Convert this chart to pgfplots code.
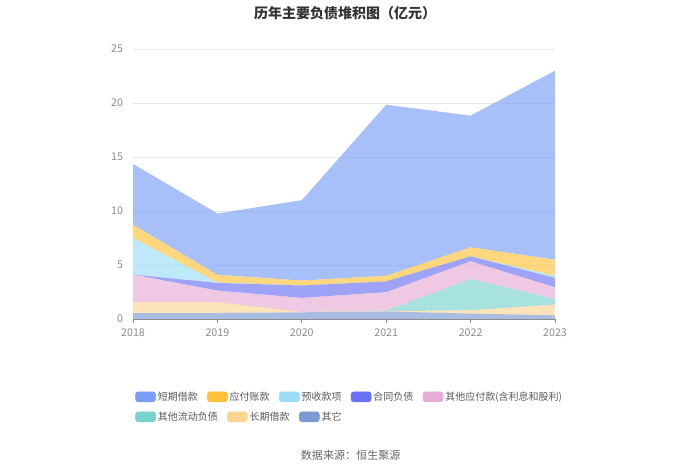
\documentclass[border=0pt]{standalone}
\usepackage{fontspec}
\setmainfont{Noto Sans CJK SC}
\usepackage{pgfplots}
\usepackage{pgfplotstable}
\pgfplotsset{compat=1.18}

\definecolor{cDQ}{HTML}{7A9EF6}
\definecolor{cYF}{HTML}{FEC23A}
\definecolor{cYS}{HTML}{9ADDF6}
\definecolor{cHT}{HTML}{6A72F3}
\definecolor{cQY}{HTML}{E6ACD5}
\definecolor{cQL}{HTML}{79D2CE}
\definecolor{cCQ}{HTML}{FCD492}
\definecolor{cQT}{HTML}{7B99D4}
\definecolor{tickgray}{HTML}{8C8C8C}
\definecolor{gridgray}{HTML}{E9E9E9}

% year qita changqi qitaliudong qitayingfu hetong yushou yingfu duanqi
\pgfplotstableread{
year qt cq ql qy ht ys yf dq
2018 0.55 1.00 0.00 2.56 0.00 3.40 1.23 5.62
2019 0.55 1.00 0.00 1.08 0.71 0.05 0.70 5.68
2020 0.62 0.03 0.00 1.30 1.15 0.00 0.46 7.44
2021 0.70 0.03 0.05 1.70 1.00 0.00 0.52 15.84
2022 0.50 0.30 2.90 1.64 0.46 0.00 0.84 12.19
2023 0.34 0.99 0.52 1.08 0.87 0.20 1.49 17.50
}\datatable

\newcommand{\swatch}[1]{\fill[#1,rounded corners=2pt] (0pt,-3.6pt) rectangle (15pt,3.9pt);}

\begin{document}
\begin{tikzpicture}
\path[use as bounding box] (0pt,0pt) rectangle (525pt,354.75pt);

\begin{axis}[
  at={(99.75pt,115.5pt)}, anchor=south west,
  scale only axis, width=316.5pt, height=202.5pt,
  xmin=2018, xmax=2023, ymin=0, ymax=25,
  stack plots=y,
  axis x line*=bottom,
  axis y line*=left,
  y axis line style={draw=none},
  x axis line style={draw=tickgray, line width=0.6pt},
  xtick={2018,2019,2020,2021,2022,2023},
  ytick={0,5,10,15,20,25},
  tick align=outside,
  major tick length=3pt,
  xtick style={draw=tickgray, line width=0.6pt},
  ytick style={draw=none},
  ymajorgrids,
  grid style={draw=gridgray, line width=0.5pt},
  /pgf/number format/assume math mode=true,
  /pgf/number format/1000 sep={},
  tick label style={font=\fontsize{8}{9}\selectfont, text=tickgray},
  yticklabel style={xshift=-1pt},
  xticklabel style={yshift=-1pt},
  axis on top=false,
  every axis plot/.append style={draw=none, fill opacity=0.65},
]
\addplot[fill=cQT] table[x=year,y=qt]{\datatable} \closedcycle;
\addplot[fill=cCQ] table[x=year,y=cq]{\datatable} \closedcycle;
\addplot[fill=cQL] table[x=year,y=ql]{\datatable} \closedcycle;
\addplot[fill=cQY] table[x=year,y=qy]{\datatable} \closedcycle;
\addplot[fill=cHT] table[x=year,y=ht]{\datatable} \closedcycle;
\addplot[fill=cYS] table[x=year,y=ys]{\datatable} \closedcycle;
\addplot[fill=cYF] table[x=year,y=yf]{\datatable} \closedcycle;
\addplot[fill=cDQ] table[x=year,y=dq]{\datatable} \closedcycle;
\end{axis}

% legend row 1
\begin{axis}[
  at={(0pt,0pt)}, anchor=south west, scale only axis,
  width=525pt, height=354.75pt, hide axis,
  xmin=0, xmax=1, ymin=0, ymax=1,
  legend columns=5,
  legend style={at={(0.1929,0.1607)}, anchor=west, draw=none, fill=none,
    inner sep=0pt, font=\fontsize{7.5}{9}\selectfont, text=black!65,
    /tikz/every even column/.append style={column sep=5.5pt},
    nodes={inner sep=1.5pt}},
  legend cell align=left,
]
\addlegendimage{legend image code/.code={\swatch{cDQ}}}\addlegendentry{短期借款}
\addlegendimage{legend image code/.code={\swatch{cYF}}}\addlegendentry{应付账款}
\addlegendimage{legend image code/.code={\swatch{cYS}}}\addlegendentry{预收款项}
\addlegendimage{legend image code/.code={\swatch{cHT}}}\addlegendentry{合同负债}
\addlegendimage{legend image code/.code={\swatch{cQY}}}\addlegendentry{其他应付款(含利息和股利)}
\end{axis}

% legend row 2
\begin{axis}[
  at={(0pt,0pt)}, anchor=south west, scale only axis,
  width=525pt, height=354.75pt, hide axis,
  xmin=0, xmax=1, ymin=0, ymax=1,
  legend columns=3,
  legend style={at={(0.1929,0.1184)}, anchor=west, draw=none, fill=none,
    inner sep=0pt, font=\fontsize{7.5}{9}\selectfont, text=black!65,
    /tikz/every even column/.append style={column sep=5.5pt},
    nodes={inner sep=1.5pt}},
  legend cell align=left,
]
\addlegendimage{legend image code/.code={\swatch{cQL}}}\addlegendentry{其他流动负债}
\addlegendimage{legend image code/.code={\swatch{cCQ}}}\addlegendentry{长期借款}
\addlegendimage{legend image code/.code={\swatch{cQT}}}\addlegendentry{其它}
\end{axis}

\node[font=\bfseries\fontsize{10.5}{12}\selectfont, text=black!80] at (258.75pt,345pt) {历年主要负债堆积图（亿元）};
\node[font=\fontsize{8.3}{10}\selectfont, text=black!60] at (263pt,13.5pt) {数据来源：恒生聚源};
\end{tikzpicture}
\end{document}
